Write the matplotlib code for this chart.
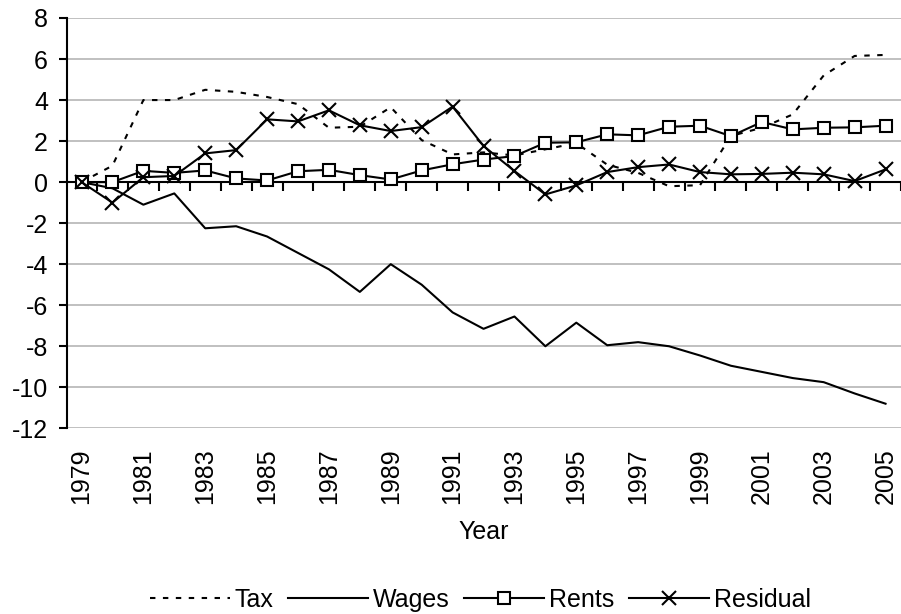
import matplotlib
matplotlib.use("Agg")
import matplotlib.pyplot as plt

plt.rcParams['font.family'] = ['Liberation Sans', 'DejaVu Sans']
plt.rcParams['axes.unicode_minus'] = False

years = list(range(1979, 2006))

tax = [0.0, 0.8, 4.0, 4.0, 4.5, 4.4, 4.15, 3.8, 2.65, 2.7, 3.65, 2.05, 1.35,
       1.45, 1.3, 1.6, 1.9, 0.85, 0.45, -0.2, -0.15, 2.25, 2.65, 3.3, 5.2, 6.15, 6.2]
wages = [0.0, -0.3, -1.1, -0.55, -2.25, -2.15, -2.65, -3.45, -4.25, -5.35, -4.0, -5.0, -6.35,
         -7.15, -6.55, -8.0, -6.85, -7.95, -7.8, -8.0, -8.45, -8.95, -9.25, -9.55, -9.75, -10.3, -10.8]
rents = [0.0, 0.0, 0.55, 0.45, 0.57, 0.18, 0.08, 0.53, 0.6, 0.34, 0.13, 0.57, 0.87,
         1.1, 1.27, 1.92, 1.94, 2.33, 2.28, 2.7, 2.75, 2.24, 2.93, 2.57, 2.65, 2.67, 2.75]
residual = [0.0, -1.0, 0.24, 0.3, 1.4, 1.56, 3.06, 2.96, 3.5, 2.77, 2.49, 2.68, 3.68,
            1.76, 0.54, -0.6, -0.16, 0.49, 0.73, 0.86, 0.49, 0.38, 0.4, 0.46, 0.38, 0.05, 0.62]

fs = 18

fig = plt.figure(figsize=(9.01, 6.14), dpi=100)
ax = fig.add_axes([0.074, 0.3024, 0.926, 0.6683])

lw = 1.5
ax.plot(years, tax, color="black", lw=lw, linestyle=(0, (2.6, 3.6)), label="Tax")
ax.plot(years, wages, color="black", lw=lw, label="Wages")
ax.plot(years, rents, color="black", lw=lw, marker="s", markersize=9,
        markerfacecolor="white", markeredgecolor="black", markeredgewidth=1.5, label="Rents")
ax.plot(years, residual, color="black", lw=lw, marker="x", markersize=10,
        markeredgewidth=1.5, label="Residual")

ax.set_xlim(1978.52, 2005.27)
ax.set_ylim(-12, 8)
ax.set_yticks(range(-12, 9, 2))
ax.yaxis.grid(True, color="#c0c0c0", lw=1.4)
ax.set_axisbelow(True)

for s in ["top", "right"]:
    ax.spines[s].set_visible(False)
ax.spines["left"].set_linewidth(1.5)
ax.spines["bottom"].set_position(("data", 0))
ax.spines["bottom"].set_linewidth(1.5)
ax.spines["bottom"].set_zorder(1.5)

ax.set_xticks([y + 0.5 for y in years])
ax.tick_params(axis="x", direction="out", length=6.5, width=1.5, labelbottom=False)
ax.tick_params(axis="y", direction="out", length=6, width=1.5, labelsize=fs, pad=7.5)

sec = ax.secondary_xaxis(0)
sec.set_xticks(years[::2])
sec.set_xticklabels([str(y) for y in years[::2]], rotation=90, fontsize=fs)
sec.tick_params(length=0, pad=14.5)
sec.spines["bottom"].set_visible(False)
sec.set_xlabel("Year", fontsize=fs, labelpad=11.5)

fig.legend(loc="center", bbox_to_anchor=(0.533, 0.0228), ncol=4, frameon=False,
           fontsize=fs, handlelength=3.2, handletextpad=0.18, columnspacing=0.6,
           borderpad=0.0)

fig.savefig("out.png", dpi=100)
